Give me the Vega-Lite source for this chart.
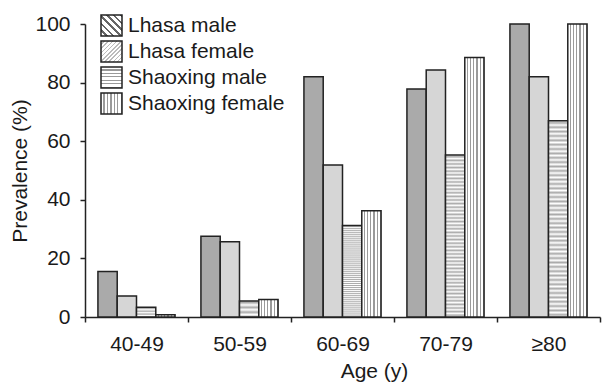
{
  "$schema": "https://vega.github.io/schema/vega-lite/v6.json",
  "autosize": {"type": "none"},
  "width": 515,
  "height": 293,
  "padding": {"left": 85, "top": 24, "right": 5, "bottom": 66},
  "background": "white",
  "config": {
    "font": "Liberation Sans",
    "view": {"stroke": null},
    "axis": {"labelFont": "Liberation Sans", "titleFont": "Liberation Sans", "labelColor": "#1a1a1a", "titleColor": "#1a1a1a", "titleFontWeight": "normal", "labelFontSize": 21, "titleFontSize": 21, "domainColor": "#222", "tickColor": "#222", "domainWidth": 1.5, "tickWidth": 1.5, "tickSize": 5, "grid": false}
  },
  "data": {
    "values": [
      {"age": "40-49", "group": "Lhasa male", "value": 15.5},
      {"age": "40-49", "group": "Lhasa female", "value": 7.2},
      {"age": "40-49", "group": "Shaoxing male", "value": 3.3},
      {"age": "40-49", "group": "Shaoxing female", "value": 0.8},
      {"age": "50-59", "group": "Lhasa male", "value": 27.6},
      {"age": "50-59", "group": "Lhasa female", "value": 25.7},
      {"age": "50-59", "group": "Shaoxing male", "value": 5.5},
      {"age": "50-59", "group": "Shaoxing female", "value": 6.0},
      {"age": "60-69", "group": "Lhasa male", "value": 82.0},
      {"age": "60-69", "group": "Lhasa female", "value": 51.9},
      {"age": "60-69", "group": "Shaoxing male", "value": 31.2},
      {"age": "60-69", "group": "Shaoxing female", "value": 36.3},
      {"age": "70-79", "group": "Lhasa male", "value": 77.8},
      {"age": "70-79", "group": "Lhasa female", "value": 84.3},
      {"age": "70-79", "group": "Shaoxing male", "value": 55.3},
      {"age": "70-79", "group": "Shaoxing female", "value": 88.6},
      {"age": "≥80", "group": "Lhasa male", "value": 100},
      {"age": "≥80", "group": "Lhasa female", "value": 82.0},
      {"age": "≥80", "group": "Shaoxing male", "value": 67.0},
      {"age": "≥80", "group": "Shaoxing female", "value": 100}
    ]
  },
  "mark": {"type": "bar", "stroke": "#222", "strokeWidth": 1.5},
  "encoding": {
    "x": {
      "field": "age", "type": "nominal",
      "sort": ["40-49", "50-59", "60-69", "70-79", "≥80"],
      "scale": {"paddingInner": 0, "paddingOuter": 0},
      "axis": {"tickBand": "extent", "labelAngle": 0, "labelPadding": 11, "title": "Age (y)", "titleX": 289, "titleY": 60, "titleBaseline": "alphabetic", "titleAlign": "center"}
    },
    "xOffset": {
      "field": "group", "type": "nominal",
      "sort": ["Lhasa male", "Lhasa female", "Shaoxing male", "Shaoxing female"],
      "scale": {"paddingInner": 0, "paddingOuter": 0.67}
    },
    "y": {
      "field": "value", "type": "quantitative",
      "scale": {"domain": [0, 100], "nice": false},
      "axis": {"values": [0, 20, 40, 60, 80, 100], "labelPadding": 10, "title": "Prevalence (%)", "titleX": -59, "titleY": 146.5, "titleBaseline": "alphabetic", "titleAngle": -90, "titleAlign": "center"}
    },
    "fill": {
      "condition": [
        {"test": "datum.group === 'Lhasa male'", "value": "#aaaaaa"},
        {"test": "datum.group === 'Lhasa female'", "value": "#d6d6d6"},
        {"test": "datum.group === 'Shaoxing male'", "value": {"expr": "{gradient:'linear',x1:0,y1:0,x2:0,y2:1,stops:[{offset:0,color:'#fff'},{offset:0.01111,color:'#aaa'},{offset:0.02222,color:'#fff'},{offset:0.03333,color:'#aaa'},{offset:0.04444,color:'#fff'},{offset:0.05556,color:'#aaa'},{offset:0.06667,color:'#fff'},{offset:0.07778,color:'#aaa'},{offset:0.08889,color:'#fff'},{offset:0.1,color:'#aaa'},{offset:0.11111,color:'#fff'},{offset:0.12222,color:'#aaa'},{offset:0.13333,color:'#fff'},{offset:0.14444,color:'#aaa'},{offset:0.15556,color:'#fff'},{offset:0.16667,color:'#aaa'},{offset:0.17778,color:'#fff'},{offset:0.18889,color:'#aaa'},{offset:0.2,color:'#fff'},{offset:0.21111,color:'#aaa'},{offset:0.22222,color:'#fff'},{offset:0.23333,color:'#aaa'},{offset:0.24444,color:'#fff'},{offset:0.25556,color:'#aaa'},{offset:0.26667,color:'#fff'},{offset:0.27778,color:'#aaa'},{offset:0.28889,color:'#fff'},{offset:0.3,color:'#aaa'},{offset:0.31111,color:'#fff'},{offset:0.32222,color:'#aaa'},{offset:0.33333,color:'#fff'},{offset:0.34444,color:'#aaa'},{offset:0.35556,color:'#fff'},{offset:0.36667,color:'#aaa'},{offset:0.37778,color:'#fff'},{offset:0.38889,color:'#aaa'},{offset:0.4,color:'#fff'},{offset:0.41111,color:'#aaa'},{offset:0.42222,color:'#fff'},{offset:0.43333,color:'#aaa'},{offset:0.44444,color:'#fff'},{offset:0.45556,color:'#aaa'},{offset:0.46667,color:'#fff'},{offset:0.47778,color:'#aaa'},{offset:0.48889,color:'#fff'},{offset:0.5,color:'#aaa'},{offset:0.51111,color:'#fff'},{offset:0.52222,color:'#aaa'},{offset:0.53333,color:'#fff'},{offset:0.54444,color:'#aaa'},{offset:0.55556,color:'#fff'},{offset:0.56667,color:'#aaa'},{offset:0.57778,color:'#fff'},{offset:0.58889,color:'#aaa'},{offset:0.6,color:'#fff'},{offset:0.61111,color:'#aaa'},{offset:0.62222,color:'#fff'},{offset:0.63333,color:'#aaa'},{offset:0.64444,color:'#fff'},{offset:0.65556,color:'#aaa'},{offset:0.66667,color:'#fff'},{offset:0.67778,color:'#aaa'},{offset:0.68889,color:'#fff'},{offset:0.7,color:'#aaa'},{offset:0.71111,color:'#fff'},{offset:0.72222,color:'#aaa'},{offset:0.73333,color:'#fff'},{offset:0.74444,color:'#aaa'},{offset:0.75556,color:'#fff'},{offset:0.76667,color:'#aaa'},{offset:0.77778,color:'#fff'},{offset:0.78889,color:'#aaa'},{offset:0.8,color:'#fff'},{offset:0.81111,color:'#aaa'},{offset:0.82222,color:'#fff'},{offset:0.83333,color:'#aaa'},{offset:0.84444,color:'#fff'},{offset:0.85556,color:'#aaa'},{offset:0.86667,color:'#fff'},{offset:0.87778,color:'#aaa'},{offset:0.88889,color:'#fff'},{offset:0.9,color:'#aaa'},{offset:0.91111,color:'#fff'},{offset:0.92222,color:'#aaa'},{offset:0.93333,color:'#fff'},{offset:0.94444,color:'#aaa'},{offset:0.95556,color:'#fff'},{offset:0.96667,color:'#aaa'},{offset:0.97778,color:'#fff'},{offset:0.98889,color:'#aaa'},{offset:1,color:'#fff'}]}"}}
      ],
      "field": "group", "type": "nominal",
      "sort": ["Lhasa male", "Lhasa female", "Shaoxing male", "Shaoxing female"],
      "scale": {"domain": ["Lhasa male", "Lhasa female", "Shaoxing male", "Shaoxing female"], "range": [
        {"expr": "{gradient:'linear',x1:0,y1:1,x2:1,y2:0,stops:[{offset:0,color:'#fff'},{offset:0.1,color:'#fff'},{offset:0.1,color:'#666'},{offset:0.1667,color:'#666'},{offset:0.1667,color:'#fff'},{offset:0.2667,color:'#fff'},{offset:0.2667,color:'#666'},{offset:0.3333,color:'#666'},{offset:0.3333,color:'#fff'},{offset:0.4333,color:'#fff'},{offset:0.4333,color:'#666'},{offset:0.5,color:'#666'},{offset:0.5,color:'#fff'},{offset:0.6,color:'#fff'},{offset:0.6,color:'#666'},{offset:0.6667,color:'#666'},{offset:0.6667,color:'#fff'},{offset:0.7667,color:'#fff'},{offset:0.7667,color:'#666'},{offset:0.8333,color:'#666'},{offset:0.8333,color:'#fff'},{offset:0.9333,color:'#fff'},{offset:0.9333,color:'#666'},{offset:1,color:'#666'}]}"},
        {"expr": "{gradient:'linear',x1:0,y1:0,x2:1,y2:1,stops:[{offset:0,color:'#fff'},{offset:0.065,color:'#fff'},{offset:0.065,color:'#bbb'},{offset:0.1,color:'#bbb'},{offset:0.1,color:'#fff'},{offset:0.165,color:'#fff'},{offset:0.165,color:'#bbb'},{offset:0.2,color:'#bbb'},{offset:0.2,color:'#fff'},{offset:0.265,color:'#fff'},{offset:0.265,color:'#bbb'},{offset:0.3,color:'#bbb'},{offset:0.3,color:'#fff'},{offset:0.365,color:'#fff'},{offset:0.365,color:'#bbb'},{offset:0.4,color:'#bbb'},{offset:0.4,color:'#fff'},{offset:0.465,color:'#fff'},{offset:0.465,color:'#bbb'},{offset:0.5,color:'#bbb'},{offset:0.5,color:'#fff'},{offset:0.565,color:'#fff'},{offset:0.565,color:'#bbb'},{offset:0.6,color:'#bbb'},{offset:0.6,color:'#fff'},{offset:0.665,color:'#fff'},{offset:0.665,color:'#bbb'},{offset:0.7,color:'#bbb'},{offset:0.7,color:'#fff'},{offset:0.765,color:'#fff'},{offset:0.765,color:'#bbb'},{offset:0.8,color:'#bbb'},{offset:0.8,color:'#fff'},{offset:0.865,color:'#fff'},{offset:0.865,color:'#bbb'},{offset:0.9,color:'#bbb'},{offset:0.9,color:'#fff'},{offset:0.965,color:'#fff'},{offset:0.965,color:'#bbb'},{offset:1,color:'#bbb'}]}"},
        {"expr": "{gradient:'linear',x1:0,y1:0,x2:0,y2:1,stops:[{offset:0,color:'#fff'},{offset:0.1,color:'#fff'},{offset:0.1,color:'#9a9a9a'},{offset:0.1667,color:'#9a9a9a'},{offset:0.1667,color:'#fff'},{offset:0.2667,color:'#fff'},{offset:0.2667,color:'#9a9a9a'},{offset:0.3333,color:'#9a9a9a'},{offset:0.3333,color:'#fff'},{offset:0.4333,color:'#fff'},{offset:0.4333,color:'#9a9a9a'},{offset:0.5,color:'#9a9a9a'},{offset:0.5,color:'#fff'},{offset:0.6,color:'#fff'},{offset:0.6,color:'#9a9a9a'},{offset:0.6667,color:'#9a9a9a'},{offset:0.6667,color:'#fff'},{offset:0.7667,color:'#fff'},{offset:0.7667,color:'#9a9a9a'},{offset:0.8333,color:'#9a9a9a'},{offset:0.8333,color:'#fff'},{offset:0.9333,color:'#fff'},{offset:0.9333,color:'#9a9a9a'},{offset:1,color:'#9a9a9a'}]}"},
        {"expr": "{gradient:'linear',x1:0,y1:0,x2:1,y2:0,stops:[{offset:0,color:'#fff'},{offset:0.1,color:'#fff'},{offset:0.1,color:'#9a9a9a'},{offset:0.1667,color:'#9a9a9a'},{offset:0.1667,color:'#fff'},{offset:0.2667,color:'#fff'},{offset:0.2667,color:'#9a9a9a'},{offset:0.3333,color:'#9a9a9a'},{offset:0.3333,color:'#fff'},{offset:0.4333,color:'#fff'},{offset:0.4333,color:'#9a9a9a'},{offset:0.5,color:'#9a9a9a'},{offset:0.5,color:'#fff'},{offset:0.6,color:'#fff'},{offset:0.6,color:'#9a9a9a'},{offset:0.6667,color:'#9a9a9a'},{offset:0.6667,color:'#fff'},{offset:0.7667,color:'#fff'},{offset:0.7667,color:'#9a9a9a'},{offset:0.8333,color:'#9a9a9a'},{offset:0.8333,color:'#fff'},{offset:0.9333,color:'#fff'},{offset:0.9333,color:'#9a9a9a'},{offset:1,color:'#9a9a9a'}]}"}
      ]},
      "legend": {"title": null, "orient": "none", "legendX": 15, "legendY": -10, "symbolType": "square", "symbolSize": 441, "symbolStrokeColor": "#222", "symbolStrokeWidth": 1.5, "symbolOpacity": 1, "labelFontSize": 21, "labelFont": "Liberation Sans", "labelColor": "#1a1a1a", "labelOffset": 5, "rowPadding": -1, "padding": 0}
    }
  }
}
